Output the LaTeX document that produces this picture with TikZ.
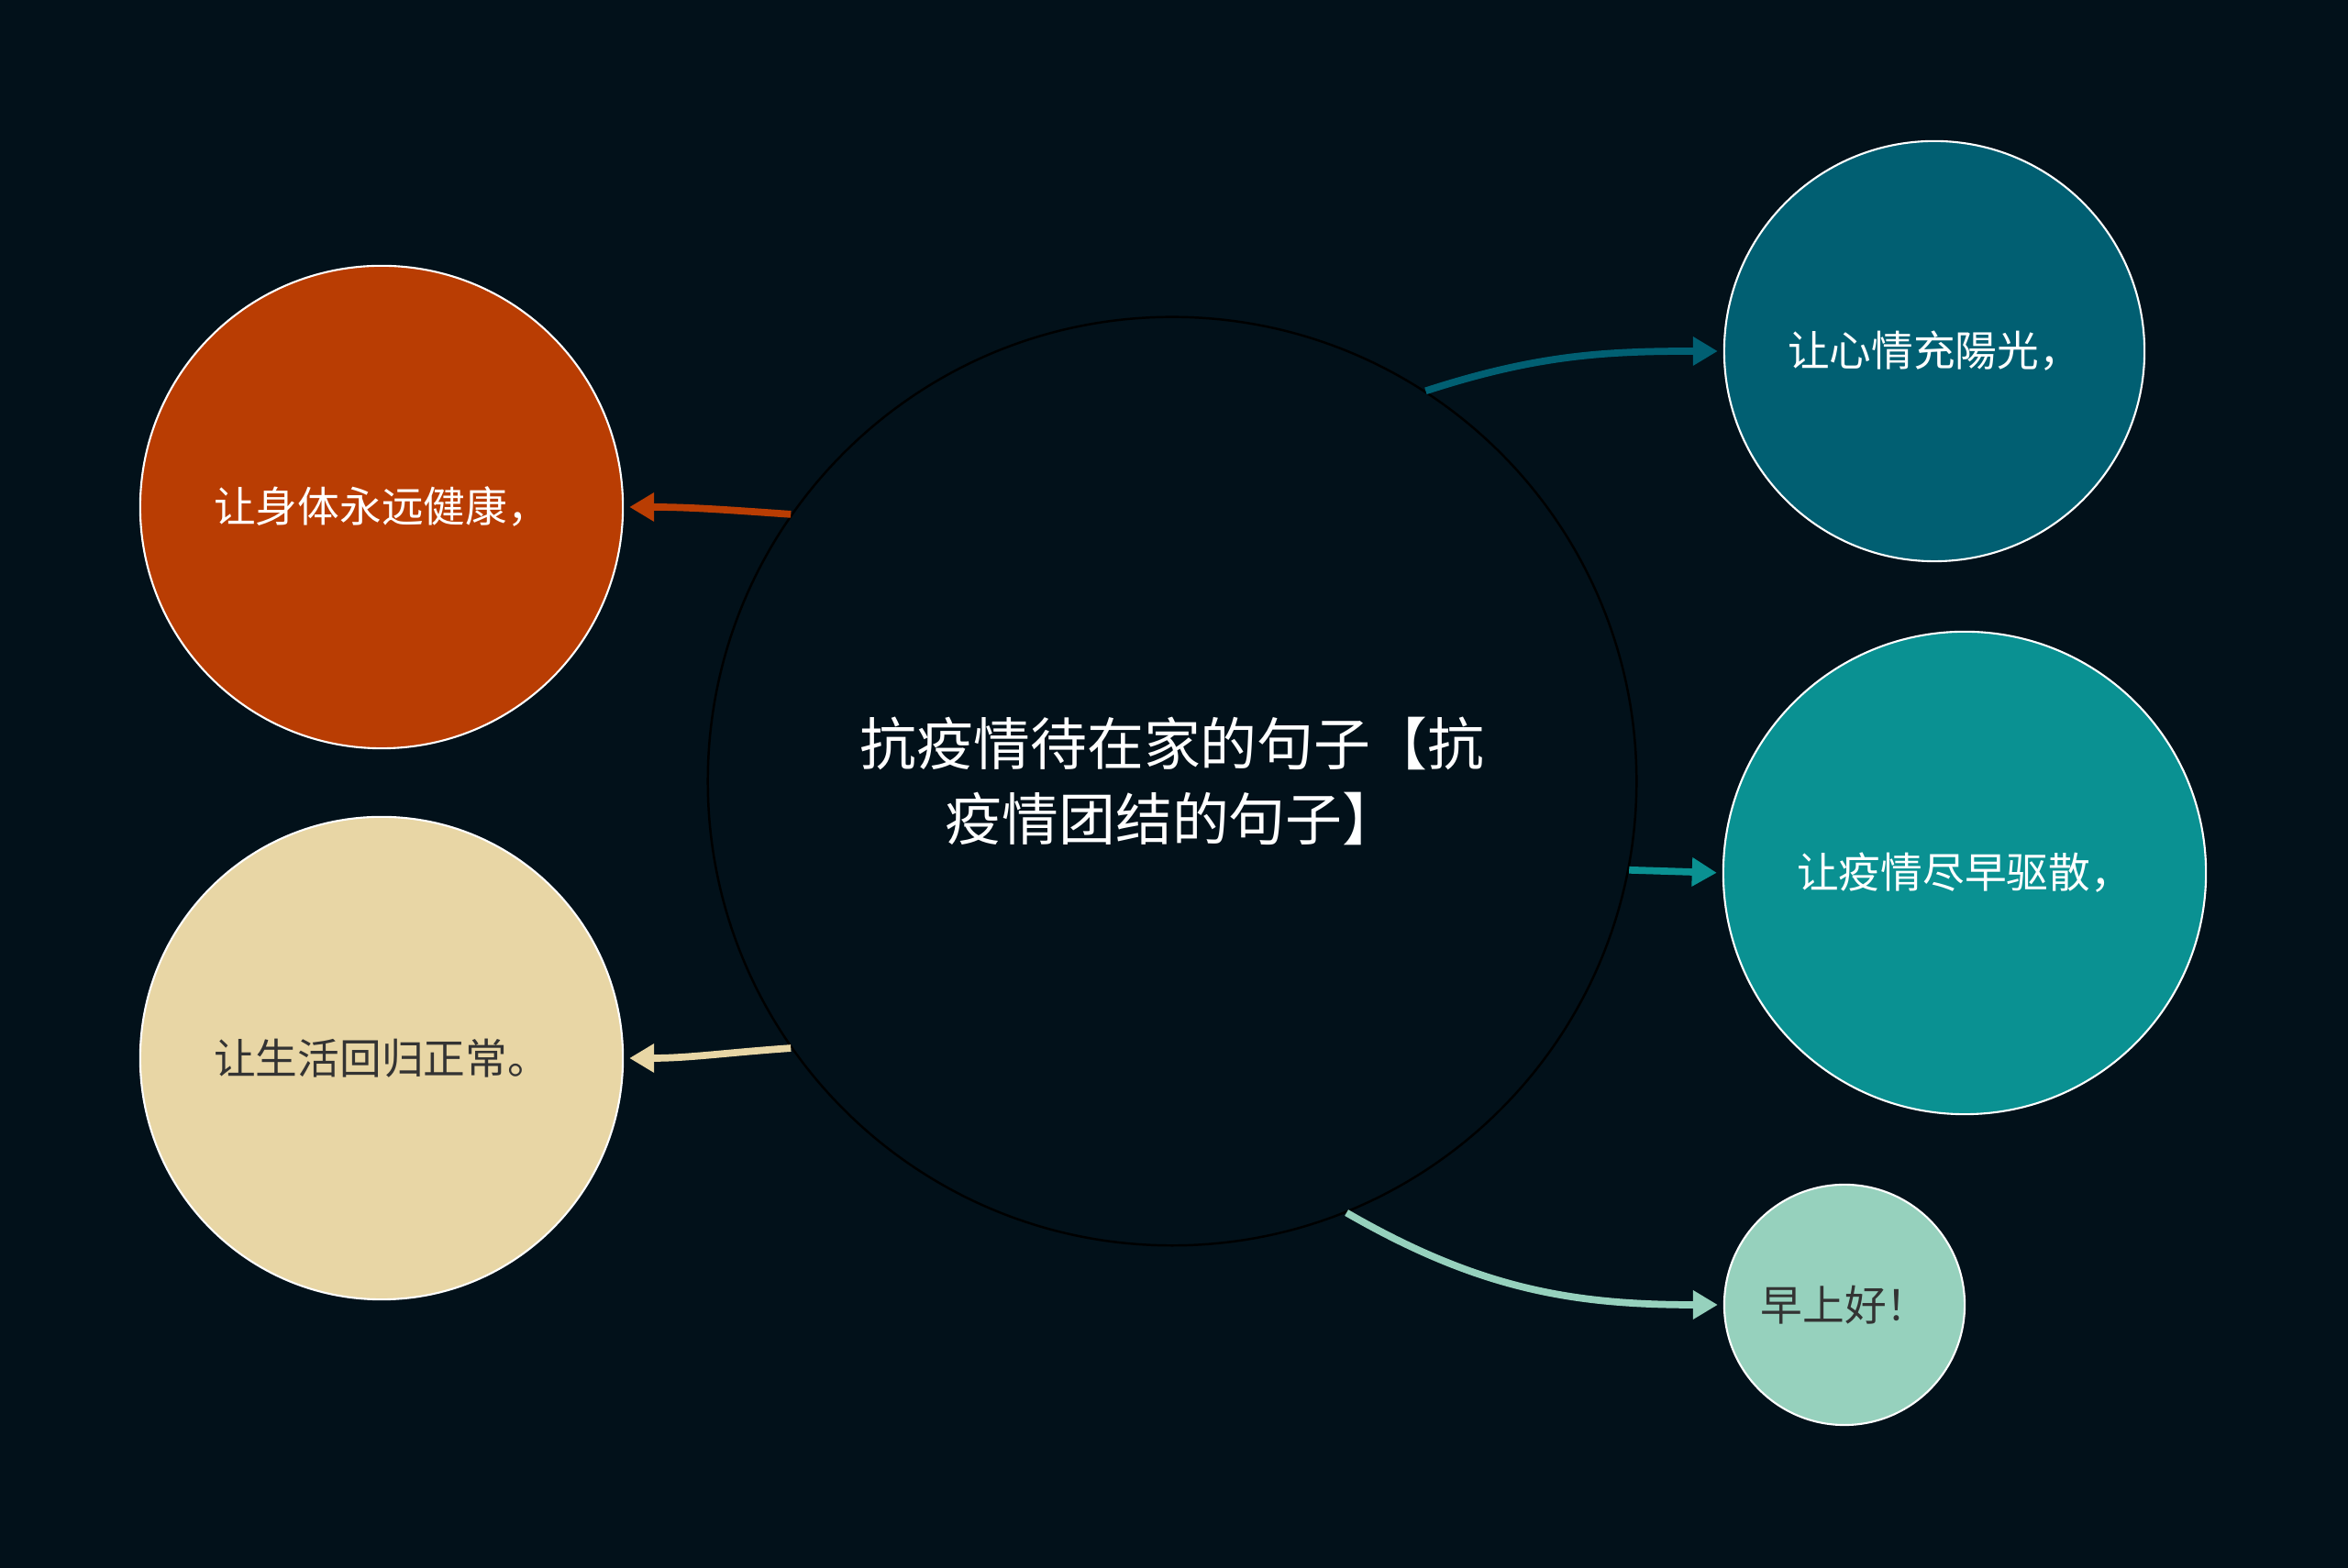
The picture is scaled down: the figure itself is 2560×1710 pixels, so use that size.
\documentclass[tikz,border=0pt]{standalone}
\usepackage{fontspec}
\setmainfont{Noto Sans CJK SC}
\usetikzlibrary{arrows.meta}

\definecolor{bgdark}{HTML}{02111A}
\definecolor{rust}{HTML}{B93D03}
\definecolor{sand}{HTML}{E8D6A5}
\definecolor{petrol}{HTML}{015F72}
\definecolor{teal}{HTML}{0A9192}
\definecolor{mint}{HTML}{96D1BD}
\definecolor{inkgray}{HTML}{333333}

\begin{document}
\begin{tikzpicture}[
    x=0.01cm,
    y=0.01cm,
    bubble/.style={
        circle,
        draw=white,
        line width=0.6pt,
        inner sep=0pt,
        align=center,
        font=\fontsize{13}{16}\selectfont
    },
    big/.style={bubble, minimum size=5.26cm},
    mid/.style={bubble, minimum size=4.58cm},
    small/.style={bubble, minimum size=2.62cm},
    hub/.style={
        circle,
        draw=black,
        line width=0.7pt,
        inner sep=0pt,
        minimum size=10.12cm,
        align=center,
        text=white,
        font=\fontsize{17.6}{23.5}\selectfont
    },
    link/.style={-{Triangle[length=0.27cm,width=0.3cm]}, line width=2.2pt, shorten >=0.06cm}
]

% ============================================================
% TLO
% ============================================================
\fill[bgdark] (0,0) rectangle (2560,1710);

% ============================================================
% WEZLY
% ============================================================
\node[hub] (center) at (1278,858) {抗疫情待在家的句子【抗\\疫情团结的句子】};

\node[big, fill=rust, text=white] (body) at (416,1157) {让身体永远健康，};
\node[big, fill=sand, text=inkgray] (life) at (416,556) {让生活回归正常。};
\node[mid, fill=petrol, text=white] (mood) at (2109,1327) {让心情充陽光，};
\node[big, fill=teal, text=white] (virus) at (2142,758) {让疫情尽早驱散，};
\node[small, fill=mint, text=inkgray] (morning) at (2011,287) {早上好！};

% ============================================================
% STRZALKI
% ============================================================
\draw[link, rust] (center.145) to[out=176, in=0] (body.east);
\draw[link, sand] (center.215.5) to[out=184, in=0] (life.east);
\draw[link, petrol] (center.57) to[out=18, in=180] (mood.west);
\draw[link, teal] (center.349.1) -- (virus.west);
\draw[link, mint] (center.292.3) to[out=-30, in=180] (morning.west);

\end{tikzpicture}
\end{document}
